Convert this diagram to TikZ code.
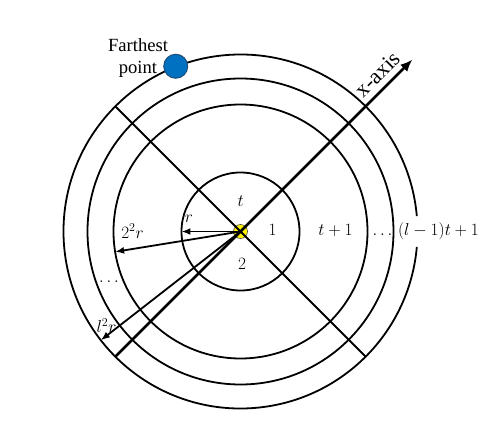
\documentclass[tikz,border=0pt]{standalone}
\usepackage{fontspec}
\setmainfont{Liberation Serif}
\usetikzlibrary{arrows.meta}
\definecolor{pointblue}{RGB}{0,112,192}
\definecolor{pointedge}{RGB}{31,78,121}
\tikzset{
  ring/.style={line width=1.8pt},
  ray/.style={line width=1.8pt, -{Latex[length=9pt,width=7pt]}},
  lbl/.style={font=\fontsize{16.5}{20}\selectfont, anchor=base, inner sep=0pt},
}

\begin{document}
\begin{tikzpicture}[x=1pt,y=1pt]
    \useasboundingbox (-240.5,-192.5) rectangle (263.5,231.5);
    \coordinate (O) at (0,0);

    \draw[ring] (O) circle (59);
    \draw[ring] (O) circle (127);
    \draw[ring] (O) circle (153);
    \draw[ring] (5:177) arc (5:355:177);

    \node[circle, fill=yellow, draw=black!70, line width=0.6pt, minimum size=14pt, inner sep=0pt] (src) at (O) {};

    \coordinate (diagA) at (135:177);
    \coordinate (diagB) at (315:177);
    \coordinate (xtail) at (225:177);
    \coordinate (xhead) at (45:243);
    \draw[ring] (diagA) -- (diagB);
    \draw[line width=2.8pt, -{Latex[length=12pt,width=10pt]}] (xtail) -- (xhead);

    \coordinate (rtip) at (180:59);
    \coordinate (rtwotip) at (189.2:127);
    \coordinate (rltip) at (217.9:177);
    \draw[ray] (O) -- (rtip);
    \draw[ray] (O) -- (rtwotip);
    \draw[ray] (O) -- (rltip);

    \node[circle, fill=pointblue, draw=pointedge, line width=1pt, minimum size=24pt, inner sep=0pt] (far) at (111.4:177.5) {};
    \node[font=\fontsize{18.6}{22}\selectfont, align=center, inner sep=0pt] (farlbl) at (-102.5,173.3) {Farthest\\point};
    \node[font=\fontsize{22}{26}\selectfont, rotate=45, inner sep=0pt] (xlbl) at (137,157.5) {x-axis};

    \node[lbl] (tlbl) at (0.2,25.5) {$t$};
    \node[lbl] (onelbl) at (32,-3.5) {$1$};
    \node[lbl] (twolbl) at (1.5,-38) {$2$};
    \node[lbl] (rlbl) at (-51.5,9) {$r$};
    \node[lbl] (rtwolbl) at (-108,-6.7) {$2^2r$};
    \node[lbl] (tonelbl) at (95,-3.5) {$t+1$};
    \node[lbl] (dotsright) at (142,-3.5) {$\ldots$};
    \node[lbl] (ltonelbl) at (198,-3.5) {$(l-1)t+1$};
    \node[lbl] (dotsleft) at (-131.5,-51) {$\ldots$};
    \node[lbl] (rllbl) at (-134,-101) {$l^2r$};
\end{tikzpicture}
\end{document}
